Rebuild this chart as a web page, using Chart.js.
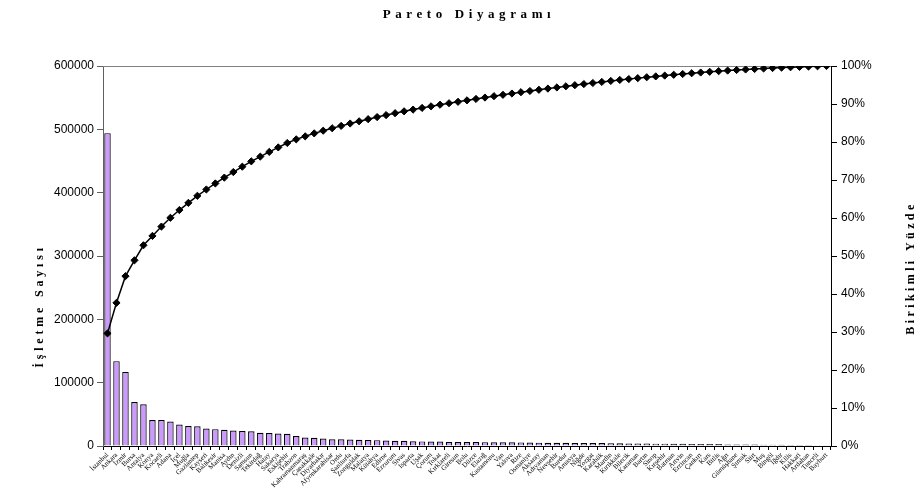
<!DOCTYPE html>
<html>
<head>
<meta charset="utf-8">
<script src="https://cdn.jsdelivr.net/npm/chart.js@4"></script>
<style>
  html, body { margin: 0; padding: 0; background: #fff; }
  #kutu { width: 920px; height: 489px; }
</style>
</head>
<body>
<div id="kutu"><canvas id="paretoCanvas" width="920" height="489"></canvas></div>
<script>
"use strict";
var iller = [
    'İstanbul', 'Ankara', 'İzmir', 'Bursa', 'Antalya', 'Konya', 'Kocaeli', 'Adana', 'İçel', 'Muğla',
    'Gaziantep', 'Kayseri', 'Balıkesir', 'Manisa', 'Aydın', 'Denizli', 'Samsun', 'Tekirdağ', 'Hatay', 'Sakarya',
    'Eskişehir', 'Trabzon', 'Kahramanmaraş', 'Çanakkale', 'Diyarbakır', 'Afyonkarahisar', 'Ordu', 'Şanlıurfa', 'Zonguldak', 'Malatya',
    'Kütahya', 'Edirne', 'Erzurum', 'Sivas', 'Isparta', 'Uşak', 'Çorum', 'Tokat', 'Kırklareli', 'Giresun',
    'Bolu', 'Düzce', 'Elazığ', 'Kastamonu', 'Van', 'Yalova', 'Rize', 'Osmaniye', 'Aksaray', 'Adıyaman',
    'Nevşehir', 'Burdur', 'Amasya', 'Niğde', 'Yozgat', 'Karabük', 'Mardin', 'Kırıkkale', 'Bilecik', 'Karaman',
    'Bartın', 'Sinop', 'Kırşehir', 'Batman', 'Artvin', 'Erzincan', 'Çankırı', 'Kars', 'Bitlis', 'Ağrı',
    'Gümüşhane', 'Şırnak', 'Siirt', 'Muş', 'Bingöl', 'Iğdır', 'Kilis', 'Hakkari', 'Ardahan', 'Tunceli',
    'Bayburt'
];
var isletmeSayisi = [
    494000, 134000, 117000, 69500, 66000, 41000, 41000, 38500, 34000, 31500,
    31000, 27700, 26600, 25500, 24500, 23500, 23300, 20800, 20600, 19800,
    19400, 15900, 13300, 13000, 11700, 10700, 10500, 10300, 9700, 9400,
    9200, 8600, 8400, 8200, 7500, 7300, 7200, 7000, 6500, 6300,
    6300, 6200, 6100, 6000, 5900, 5800, 5700, 5400, 5300, 5200,
    5100, 5000, 4900, 4800, 4700, 4600, 4500, 4200, 4100, 4000,
    3900, 3700, 3600, 3500, 3400, 3300, 3200, 3100, 3000, 2500,
    2400, 2300, 2200, 2100, 2000, 1900, 1700, 1500, 1400, 1300,
    1200
];
var sayiEkseni = { min: 0, max: 600000, adim: 100000 };
var yuzdeEkseni = { min: 0, max: 100, adim: 10 };

// birikimli yüzde, işletme sayılarından
var toplam = 0;
for (var i = 0; i < isletmeSayisi.length; i++) toplam += isletmeSayisi[i];
var birikimliYuzde = [];
var ara = 0;
for (var j = 0; j < isletmeSayisi.length; j++) {
    ara += isletmeSayisi[j];
    birikimliYuzde.push(ara / toplam * 100);
}

var basliklar = {
    id: 'basliklar',
    beforeDatasetsDraw: function (chart) {
        // çizim alanının üst kenarı
        var a = chart.chartArea;
        var ctx = chart.ctx;
        ctx.save();
        ctx.strokeStyle = '#808080';
        ctx.lineWidth = 1;
        ctx.beginPath();
        ctx.moveTo(a.left, a.top + 0.5);
        ctx.lineTo(a.right, a.top + 0.5);
        ctx.stroke();
        ctx.restore();
    },
    afterDraw: function (chart) {
        var a = chart.chartArea;
        var ctx = chart.ctx;
        var ortaY = (a.top + a.bottom) / 2;
        ctx.save();
        ctx.fillStyle = '#000';
        ctx.textAlign = 'center';
        ctx.textBaseline = 'middle';
        ctx.font = 'bold 13px "Liberation Serif"';
        ctx.letterSpacing = '4.6px';
        ctx.fillText('Pareto Diyagramı', (a.left + a.right) / 2 + 2, 15);

        ctx.font = 'bold 12px "Liberation Serif"';
        ctx.letterSpacing = '3.8px';
        ctx.save();
        ctx.translate(40, ortaY + 50);
        ctx.rotate(-Math.PI / 2);
        ctx.fillText('İşletme Sayısı', 0, 0);
        ctx.restore();

        ctx.letterSpacing = '3.4px';
        ctx.save();
        ctx.translate(911, ortaY + 12);
        ctx.rotate(-Math.PI / 2);
        ctx.fillText('Birikimli Yüzde', 0, 0);
        ctx.restore();
        ctx.restore();
    }
};

const context = document.getElementById('paretoCanvas');
new Chart(context, {
    type: 'bar',
    data: {
        labels: iller,
        datasets: [{
            type: 'line',
            label: 'Birikimli Yüzde',
            data: birikimliYuzde,
            yAxisID: 'y1',
            borderColor: '#000',
            borderWidth: 1.5,
            backgroundColor: '#000',
            pointStyle: 'rectRot',
            pointRadius: 3.6,
            pointBorderWidth: 1,
            pointBackgroundColor: '#000',
            tension: 0,
            order: 0
        }, {
            label: 'İşletme Sayısı',
            data: isletmeSayisi,
            yAxisID: 'y',
            backgroundColor: '#cc99ff',
            borderColor: '#000',
            borderWidth: 1.2,
            categoryPercentage: 1,
            barPercentage: 0.72,
            order: 1
        }]
    },
    options: {
        responsive: false,
        animation: false,
        layout: { padding: { top: 66, left: 0, right: 0, bottom: 0 } },
        plugins: {
            legend: { display: false },
            tooltip: { enabled: false },
            title: { display: false }
        },
        scales: {
            x: {
                offset: true,
                grid: { offset: true, drawOnChartArea: false, tickLength: 4, color: '#000' },
                border: { color: '#000', width: 1 },
                ticks: {
                    autoSkip: false, maxRotation: 45, minRotation: 45, padding: 1,
                    color: '#000', font: { family: '"Liberation Serif"', size: 7 }
                },
                afterFit: function (scale) { scale.height = 43; }
            },
            y: {
                position: 'left',
                min: sayiEkseni.min, max: sayiEkseni.max,
                grid: { drawOnChartArea: false, tickLength: 6, color: '#606060' },
                border: { color: '#606060', width: 1 },
                ticks: {
                    stepSize: sayiEkseni.adim, padding: 3, color: '#000',
                    font: { family: '"Liberation Sans"', size: 12 },
                    callback: function (v) { return String(v); }
                },
                afterFit: function (scale) { scale.width = 103; }
            },
            y1: {
                position: 'right',
                min: yuzdeEkseni.min, max: yuzdeEkseni.max,
                grid: { drawOnChartArea: false, tickLength: 6, color: '#000' },
                border: { color: '#000', width: 1 },
                ticks: {
                    stepSize: yuzdeEkseni.adim, padding: 4, color: '#000',
                    font: { family: '"Liberation Sans"', size: 12 },
                    callback: function (v) { return v + '%'; }
                },
                afterFit: function (scale) { scale.width = 89; }
            }
        }
    },
    plugins: [basliklar]
});
</script>
</body>
</html>
